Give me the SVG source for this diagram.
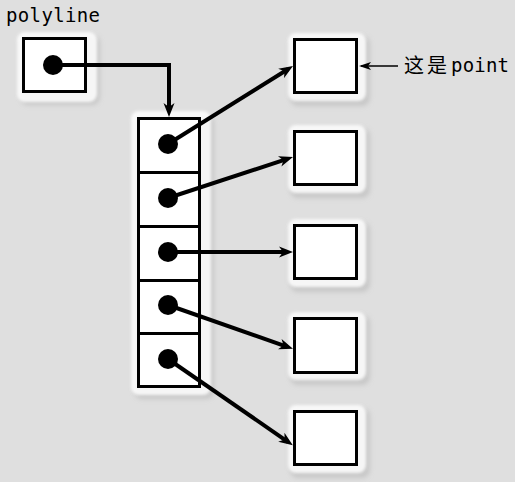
<svg xmlns="http://www.w3.org/2000/svg" width="515" height="482" viewBox="0 0 515 482">
<defs>
<style>
.box{fill:#ffffff;stroke:#000000;stroke-width:3}
.dot{fill:#000000}
.conn{fill:none;stroke:#000000;stroke-width:4;marker-end:url(#ah)}
.mono{font-family:"DejaVu Sans Mono","Liberation Mono",monospace;font-size:19px;fill:#000000}
.cjk{font-family:"Noto Sans CJK SC","DejaVu Sans",sans-serif;font-size:20px;fill:#000000}
.halo{fill:#ffffff;opacity:0.85;filter:url(#soft)}
.shadow{fill:#bdbdbd;opacity:0.7;filter:url(#soft2)}
</style>
<filter id="soft" x="-20%" y="-20%" width="140%" height="140%"><feGaussianBlur stdDeviation="1.5"/></filter>
<filter id="soft2" x="-20%" y="-20%" width="140%" height="140%"><feGaussianBlur stdDeviation="2.5"/></filter>
<marker id="ah" markerUnits="userSpaceOnUse" markerWidth="16" markerHeight="12" refX="8" refY="6" orient="auto">
<path d="M0,0.5 L14,6 L0,11.5 L4,6 Z" fill="#000000"/>
</marker>
<marker id="ahs" markerUnits="userSpaceOnUse" markerWidth="12" markerHeight="10" refX="10" refY="5" orient="auto">
<path d="M0,1 L12,5 L0,9 L3,5 Z" fill="#000000"/>
</marker>
</defs>
<rect x="0" y="0" width="515" height="482" fill="#dfdfdf"/>

<g id="polyline-node">
<rect class="shadow" x="20" y="35" width="80" height="70" rx="8"/>
<rect class="halo" x="17" y="32" width="80" height="70" rx="8"/>
<rect class="box" x="23.5" y="38.5" width="62" height="53"/>
<circle class="dot" cx="53" cy="65" r="10"/>
<text class="mono" x="6" y="22" textLength="94" lengthAdjust="spacing">polyline</text>
</g>

<g id="array-node">
<rect class="shadow" x="134" y="115" width="80" height="284" rx="8"/>
<rect class="halo" x="131" y="111" width="80" height="284" rx="8"/>
<rect class="box" x="138.5" y="118.5" width="61" height="54"/>
<rect class="box" x="138.5" y="172.5" width="61" height="54"/>
<rect class="box" x="138.5" y="226.5" width="61" height="54"/>
<rect class="box" x="138.5" y="280.5" width="61" height="53"/>
<rect class="box" x="138.5" y="333.5" width="61" height="53"/>
<circle class="dot" cx="168" cy="144" r="10"/>
<circle class="dot" cx="168" cy="198" r="10"/>
<circle class="dot" cx="168" cy="252" r="10"/>
<circle class="dot" cx="168" cy="305" r="10"/>
<circle class="dot" cx="168" cy="359" r="10"/>
</g>

<g id="point1">
<rect class="shadow" x="290" y="36" width="80" height="70" rx="8"/>
<rect class="halo" x="288" y="33" width="78" height="68" rx="8"/>
<rect class="box" x="294.5" y="39.5" width="62" height="53"/>
</g>
<g id="point2">
<rect class="shadow" x="290" y="128" width="80" height="70" rx="8"/>
<rect class="halo" x="288" y="125" width="78" height="68" rx="8"/>
<rect class="box" x="294.5" y="131.5" width="62" height="53"/>
</g>
<g id="point3">
<rect class="shadow" x="290" y="222" width="80" height="70" rx="8"/>
<rect class="halo" x="288" y="219" width="78" height="68" rx="8"/>
<rect class="box" x="294.5" y="225.5" width="62" height="53"/>
</g>
<g id="point4">
<rect class="shadow" x="290" y="315" width="80" height="70" rx="8"/>
<rect class="halo" x="288" y="312" width="78" height="68" rx="8"/>
<rect class="box" x="294.5" y="318.5" width="62" height="54"/>
</g>
<g id="point5">
<rect class="shadow" x="290" y="408" width="80" height="70" rx="8"/>
<rect class="halo" x="288" y="405" width="78" height="68" rx="8"/>
<rect class="box" x="294.5" y="411.5" width="62" height="53"/>
</g>

<g id="label">
<text class="cjk" x="404" y="73">这</text>
<text class="cjk" x="427" y="73">是</text>
<text class="mono" x="451" y="72" textLength="58" lengthAdjust="spacing">point</text>
</g>

<g id="connectors">
<path class="conn" d="M53,65 H169 V111"/>
<path class="conn" d="M168,144 L287.9,69.2"/>
<path class="conn" d="M168,198 L287.3,158.9"/>
<path class="conn" d="M168,252 L287,252"/>
<path class="conn" d="M168,305 L287.3,346.8"/>
<path class="conn" d="M168,359 L287.9,441.8"/>
<path d="M398,66 L361,66" fill="none" stroke="#000000" stroke-width="1.5" marker-end="url(#ahs)"/>
</g>
</svg>
